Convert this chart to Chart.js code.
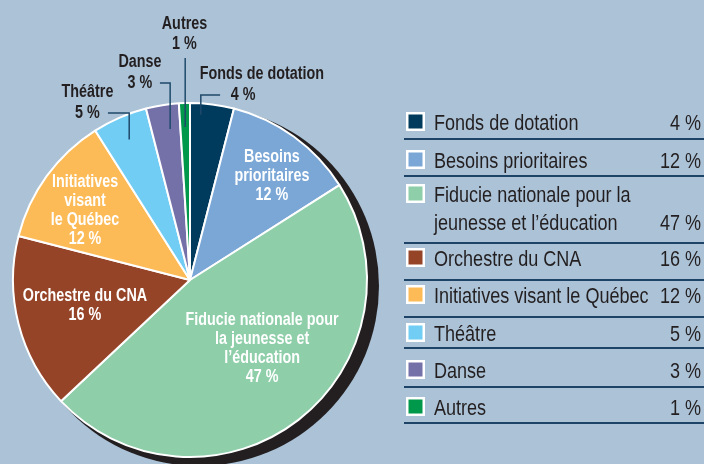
<!DOCTYPE html>
<html lang="fr">
<head>
<meta charset="utf-8">
<title>Répartition des dons</title>
<script src="https://cdn.jsdelivr.net/npm/chart.js@4.4.1/dist/chart.umd.min.js"></script>
<style>
html,body{margin:0;padding:0;background:#abc2d7;overflow:hidden;}
canvas{display:block;}
</style>
</head>
<body>
<canvas id="chart" width="704" height="464"></canvas>
<script>
// ---------------- data ----------------
const categories = [
  'Fonds de dotation',
  'Besoins prioritaires',
  'Fiducie nationale pour la jeunesse et l’éducation',
  'Orchestre du CNA',
  'Initiatives visant le Québec',
  'Théâtre',
  'Danse',
  'Autres'
];
const values = [4, 12, 47, 16, 12, 5, 3, 1];
const sliceColors = ['#003a5d', '#7ba7d7', '#8ecea9', '#964428', '#fdbb58', '#72cdf4', '#7471a9', '#00984a'];

// how the texts are broken into lines
const sliceLabelLines = [
  ['Fonds de dotation'],
  ['Besoins', 'prioritaires'],
  ['Fiducie nationale pour', 'la jeunesse et', 'l’éducation'],
  ['Orchestre du CNA'],
  ['Initiatives', 'visant', 'le Québec'],
  ['Théâtre'],
  ['Danse'],
  ['Autres']
];
const legendLabelLines = [
  ['Fonds de dotation'],
  ['Besoins prioritaires'],
  ['Fiducie nationale pour la', 'jeunesse et l’éducation'],
  ['Orchestre du CNA'],
  ['Initiatives visant le Québec'],
  ['Théâtre'],
  ['Danse'],
  ['Autres']
];
const pct = v => v + ' %';

// ---------------- layout (not data) ----------------
// inside labels: t = position within slice's angle span, r = fraction of radius
const insideLabelPlacement = {
  1: {t: 0.543, r: 0.75},
  2: {t: 0.445, r: 0.553},
  3: {t: 0.53,  r: 0.605},
  4: {t: 0.458, r: 0.713}
};
// outside labels: leader from slice point (t, r) up to elbowY, then across to endX; text positions in radius units from centre
const outsideLabelPlacement = {
  0: {t: 0.26, r: 0.93,  elbowY: -1.039, endX: 0.169,  text: [[0.404, -1.129], [0.298, -1.011]]},
  5: {t: 0.5,  r: 0.86,  elbowY: -0.938, endX: -0.461, text: [[-0.576, -1.028], [-0.576, -0.910]]},
  6: {t: 0.64, r: 0.856, elbowY: -1.107, endX: -0.169, text: [[-0.281, -1.197], [-0.281, -1.079]]},
  7: {t: 0.5,  r: 0.86,  elbowY: -1.247, endX: null,   text: [[-0.031, -1.410], [-0.031, -1.298]]}
};
const legendBox = {left: 404, right: 704, swatchX: 406, textX: 434, pctX: 701};
const legendSwatchTops = [112, 150, 184, 248, 285, 323, 360, 397];
const legendRuleYs = [139, 176, 243, 280, 317, 348, 387, 423];

// ---------------- fonts ----------------
function hasFont(name) {
  const c = document.createElement('canvas').getContext('2d');
  const s = 'abcdefghijklmnopqrstuvwxyz ABCDEFGHIJ 0123456789 %';
  let diff = false;
  for (const fb of ['monospace', 'serif']) {
    c.font = '20px ' + fb; const w1 = c.measureText(s).width;
    c.font = '20px "' + name + '", ' + fb; const w2 = c.measureText(s).width;
    if (Math.abs(w1 - w2) > 0.5) diff = true;
  }
  return diff;
}
let FAMILY = '"Liberation Sans Narrow", "Liberation Sans", Arial, sans-serif';
let SX = 1;
if (!hasFont('Liberation Sans Narrow')) {
  FAMILY = '"Liberation Sans", Arial, sans-serif';
  SX = 0.82;
}
function drawText(ctx, s, x, y, size, weight, color, align) {
  ctx.save();
  ctx.font = weight + ' ' + size + 'px ' + FAMILY;
  ctx.fillStyle = color;
  ctx.textAlign = align;
  ctx.textBaseline = 'alphabetic';
  ctx.translate(x, y);
  ctx.scale(SX, 1);
  ctx.fillText(s, 0, 0);
  ctx.restore();
}

const DARK = '#231f20';
const LEADER = '#1f4a6b';
const RULE = '#1d4466';

const decor = {
  id: 'decor',
  beforeDatasetsDraw(chart) {
    const ctx = chart.ctx;
    const a = chart.getDatasetMeta(0).data[0];
    const {x, y, outerRadius} = a.getProps(['x', 'y', 'outerRadius'], true);
    ctx.save();
    ctx.fillStyle = DARK;
    ctx.beginPath();
    ctx.arc(x + 9, y + 6, outerRadius + 3, 0, Math.PI * 2);
    ctx.fill();
    ctx.restore();
  },
  afterDatasetsDraw(chart) {
    const ctx = chart.ctx;
    const arcs = chart.getDatasetMeta(0).data;
    const p0 = arcs[0].getProps(['x', 'y', 'outerRadius'], true);
    const cx = p0.x, cy = p0.y, R = p0.outerRadius + 1;

    // inside labels
    Object.keys(insideLabelPlacement).forEach(k => {
      const i = +k, pl = insideLabelPlacement[k];
      const p = arcs[i].getProps(['startAngle', 'endAngle'], true);
      const ang = p.startAngle + pl.t * (p.endAngle - p.startAngle);
      const lx = cx + pl.r * R * Math.cos(ang);
      const ly = cy + pl.r * R * Math.sin(ang);
      const lines = sliceLabelLines[i].concat([pct(values[i])]);
      const lh = 19;
      const first = ly - (lines.length - 1) / 2 * lh + 6.5;
      lines.forEach((s, j) => drawText(ctx, s, lx, first + j * lh, 17.5, 'bold', '#ffffff', 'center'));
    });

    // outside labels with leaders
    Object.keys(outsideLabelPlacement).forEach(k => {
      const i = +k, pl = outsideLabelPlacement[k];
      const p = arcs[i].getProps(['startAngle', 'endAngle'], true);
      const ang = p.startAngle + pl.t * (p.endAngle - p.startAngle);
      const ax = cx + pl.r * R * Math.cos(ang);
      const ay = cy + pl.r * R * Math.sin(ang);
      ctx.save();
      ctx.strokeStyle = LEADER;
      ctx.lineWidth = 1.5;
      ctx.beginPath();
      ctx.moveTo(ax, ay);
      ctx.lineTo(ax, cy + pl.elbowY * R);
      if (pl.endX !== null) ctx.lineTo(cx + pl.endX * R, cy + pl.elbowY * R);
      ctx.stroke();
      ctx.restore();
      const texts = [sliceLabelLines[i].join(' '), pct(values[i])];
      texts.forEach((s, j) => drawText(ctx, s, cx + pl.text[j][0] * R, cy + pl.text[j][1] * R, 17.5, 'bold', DARK, 'center'));
    });

    // legend
    categories.forEach((c, i) => {
      const top = legendSwatchTops[i];
      ctx.save();
      ctx.fillStyle = '#ffffff';
      ctx.fillRect(legendBox.swatchX, top, 19, 19);
      ctx.fillStyle = sliceColors[i];
      ctx.fillRect(legendBox.swatchX + 2.5, top + 2.5, 14, 14);
      ctx.restore();
      const lines = legendLabelLines[i];
      lines.forEach((s, j) => drawText(ctx, s, legendBox.textX, top + 18 + j * 28, 22, 'normal', DARK, 'left'));
      drawText(ctx, pct(values[i]), legendBox.pctX, top + 18 + (lines.length - 1) * 28, 22, 'normal', DARK, 'right');
      ctx.save();
      ctx.strokeStyle = RULE;
      ctx.lineWidth = 2;
      ctx.beginPath();
      ctx.moveTo(legendBox.left, legendRuleYs[i]);
      ctx.lineTo(legendBox.right, legendRuleYs[i]);
      ctx.stroke();
      ctx.restore();
    });
  }
};

new Chart(document.getElementById('chart'), {
  type: 'pie',
  data: {
    labels: categories,
    datasets: [{
      data: values,
      backgroundColor: sliceColors,
      borderColor: '#ffffff',
      borderWidth: 2,
      hoverOffset: 0
    }]
  },
  options: {
    responsive: false,
    animation: false,
    events: [],
    layout: {padding: {left: 12, right: 336, top: 102, bottom: 6}},
    plugins: {legend: {display: false}, tooltip: {enabled: false}, title: {display: false}}
  },
  plugins: [decor]
});
</script>
</body>
</html>
